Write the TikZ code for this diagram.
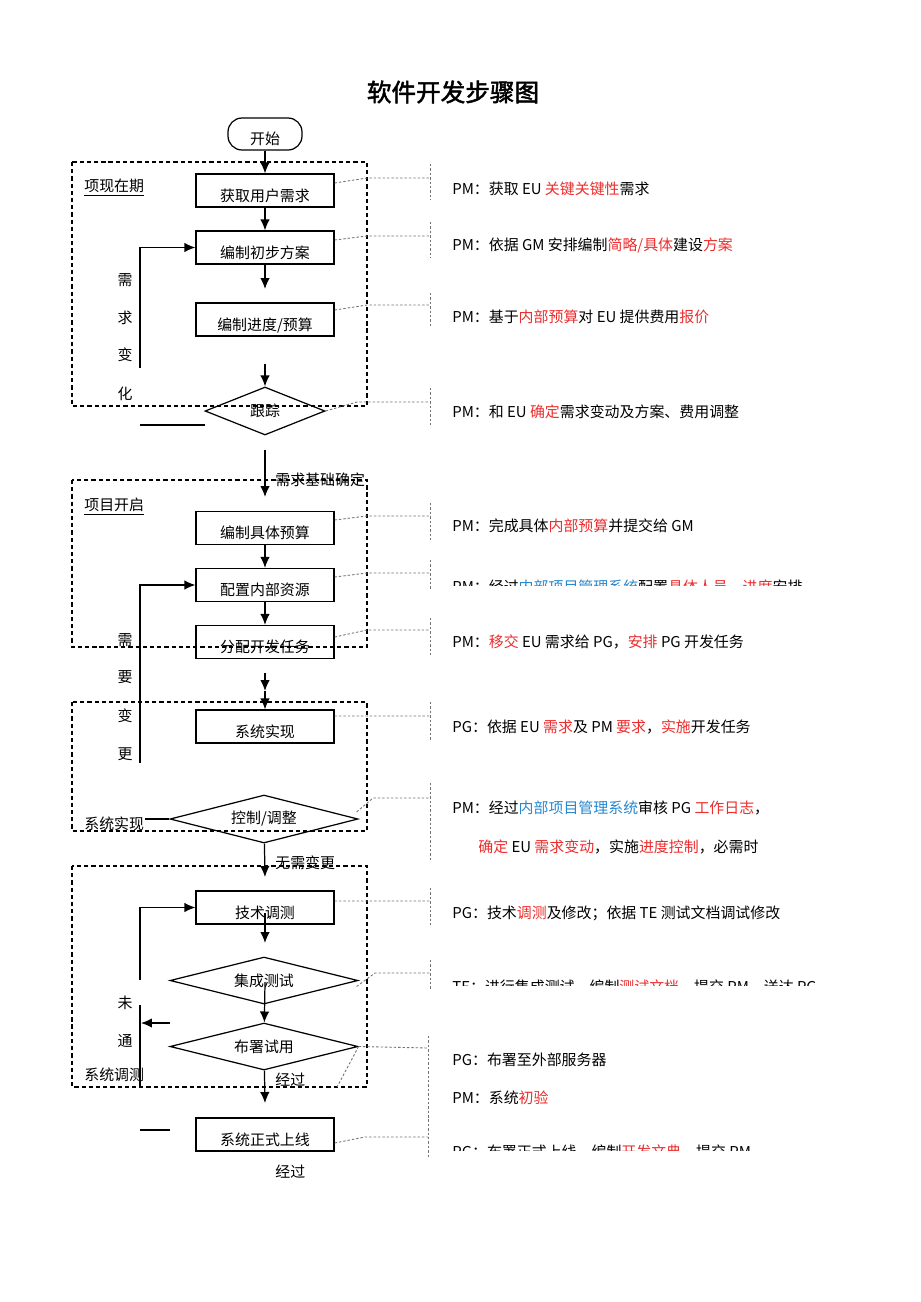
\documentclass[tikz,border=0pt]{standalone}
\usepackage{fontspec}
\setmainfont{Noto Sans CJK SC}
\newfontfamily\ttlfont[FakeBold=2]{Noto Sans CJK SC}
\usetikzlibrary{shapes.geometric,arrows.meta}
\definecolor{hlred}{RGB}{235,45,45}
\definecolor{syblue}{RGB}{40,135,205}
\newcommand{\hl}[1]{\textcolor{hlred}{#1}}
\newcommand{\sy}[1]{\textcolor{syblue}{#1}}
\newcommand{\fs}{\fontsize{8.5pt}{10pt}\selectfont}

\begin{document}
\begin{tikzpicture}[x=0.02cm,y=-0.02cm,
  stepbox/.style={draw,line width=0.7pt,minimum width=2.76cm,minimum height=0.66cm,
                  inner sep=0pt,text height=0.42cm,text depth=0pt,font=\fs},
  startbox/.style={draw,line width=0.7pt,rounded corners=0.28cm,minimum width=1.48cm,
                  minimum height=0.64cm,inner sep=0pt,text height=0.4cm,text depth=0pt,font=\fs},
  choice/.style={diamond,draw,line width=0.7pt,inner sep=0pt,font=\fs},
  grp/.style={draw,line width=0.6pt,dash pattern=on 2.4pt off 1.7pt},
  link/.style={draw=black!55,line width=0.5pt,dash pattern=on 1.4pt off 1.1pt},
  flow/.style={line width=0.7pt,-{Latex[length=2.2mm,width=1.9mm]}},
  note/.style={anchor=west,inner sep=0pt,font=\fs},
  tag/.style={inner sep=0pt,font=\fs}]
  \useasboundingbox (0,0) rectangle (920,1302);

  \node[font=\ttlfont\fontsize{14pt}{16pt}\selectfont] (ttl) at (453,92) {软件开发步骤图};

  \draw[grp] ( 72, 162) rectangle (367, 406);
  \draw[grp] ( 72, 480) rectangle (367, 647);
  \draw[grp] ( 72, 702) rectangle (367, 831);
  \draw[grp] ( 72, 866) rectangle (367,1087);

  \node[startbox] (st) at (265, 134.0) {开始};
  \node[stepbox]  (s1) at (265, 190.5) {获取用户需求};
  \node[stepbox]  (s2) at (265, 247.5) {编制初步方案};
  \node[stepbox]  (s3) at (265, 319.5) {编制进度/预算};
  \node[choice,aspect=2.5,minimum width=2.40cm,minimum height=0.96cm] (d1) at (265, 411.0) {跟踪};
  \node[stepbox]  (s4) at (265, 528.0) {编制具体预算};
  \node[stepbox]  (s5) at (265, 585.0) {配置内部资源};
  \node[stepbox]  (s6) at (265, 642.0) {分配开发任务};
  \node[stepbox]  (s7) at (265, 726.5) {系统实现};
  \node[choice,aspect=3.9,minimum width=3.76cm,minimum height=0.96cm] (d2) at (264, 819.0) {控制/调整};
  \node[stepbox]  (s8) at (265, 907.5) {技术调测};
  \node[choice,aspect=4.0,minimum width=3.76cm,minimum height=0.94cm] (d3) at (264, 980.5) {集成测试};
  \node[choice,aspect=4.0,minimum width=3.76cm,minimum height=0.94cm] (d4) at (264,1046.5) {布署试用};
  \node[stepbox]  (s9) at (265,1134.5) {系统正式上线};

  \node[tag,anchor=west] (g1) at ( 84, 188) {\underline{项现在期}};
  \node[tag,anchor=west] (g2) at ( 84, 507) {\underline{项目开启}};
  \node[tag,anchor=west] (g3) at ( 84, 824) {系统实现};
  \node[tag,anchor=west] (g4) at ( 84,1075) {系统调测};

  \node[tag] (v1) at (125, 280) {需};
  \node[tag] (v2) at (125, 318) {求};
  \node[tag] (v3) at (125, 355) {变};
  \node[tag] (v4) at (125, 394) {化};
  \node[tag] (v5) at (125, 640) {需};
  \node[tag] (v6) at (125, 677) {要};
  \node[tag] (v7) at (125, 716) {变};
  \node[tag] (v8) at (125, 754) {更};
  \node[tag] (v9) at (125,1003) {未};
  \node[tag] (v10) at (125,1041) {通};

  \node[tag,anchor=west] (e1) at (275, 480) {需求基础确定};
  \node[tag,anchor=west] (e2) at (275, 863) {无需变更};
  \node[tag,anchor=west] (e3) at (275,1080) {经过};
  \node[tag,anchor=west] (e4) at (275,1172) {经过};

  \coordinate (a1)  at (265, 289);
  \coordinate (a2)  at (265, 364);
  \coordinate (a3)  at (265, 450);
  \coordinate (a4)  at (265, 497);
  \coordinate (a5)  at (265, 673);
  \coordinate (a6)  at (265, 691);
  \coordinate (a7)  at (265, 877);
  \coordinate (a8)  at (265, 913);
  \coordinate (a9)  at (265, 943);
  \coordinate (a10) at (265, 982);
  \coordinate (a11) at (265,1103);
  \coordinate (b1)  at (140, 368);
  \coordinate (b2)  at (140, 763);
  \coordinate (b3)  at (140, 980);
  \coordinate (b4)  at (140,1005);
  \coordinate (b5)  at (140,1087);
  \coordinate (b6)  at (140, 425);
  \coordinate (b7)  at (205, 425);
  \coordinate (b8)  at (145, 819);
  \coordinate (b9)  at (170,1023);
  \coordinate (b10) at (141,1023);
  \coordinate (b11) at (140,1130);
  \coordinate (b12) at (170,1130);

  \draw[flow] (st) -- (s1);
  \draw[flow] (s1) -- (s2);
  \draw[flow] (s2) -- (a1);
  \draw[flow] (a2) -- (d1);
  \draw[flow] (a3) -- (a4);
  \draw[flow] (s4) -- (s5);
  \draw[flow] (s5) -- (s6);
  \draw[flow] (a5) -- (a6);
  \draw[flow] (a6) -- (s7);
  \draw[flow] (d2) -- (a7);
  \draw[flow] (a8) -- (a9);
  \draw[flow] (a10) -- (d4);
  \draw[flow] (d4) -- (a11);
  \draw[flow] (b1) |- (s2);
  \draw[flow] (b2) |- (s5);
  \draw[flow] (b3) |- (s8);
  \draw[flow] (b9) -- (b10);
  \draw[line width=0.7pt] (b4) -- (b5);
  \draw[line width=0.7pt] (b6) -- (b7);
  \draw[line width=0.7pt] (b8) -- (d2);
  \draw[line width=0.7pt] (b11) -- (b12);

  \draw[link] ([yshift=0.15cm]s1.east) -- (367, 178) -- (430, 178);
  \draw[link] ([yshift=0.15cm]s2.east) -- (367, 236) -- (430, 236);
  \draw[link] ([yshift=0.19cm]s3.east) -- (367, 305) -- (430, 305);
  \draw[link] (d1.east) -- (357, 402) -- (430, 402);
  \draw[link] ([yshift=0.16cm]s4.east) -- (367, 516) -- (430, 516);
  \draw[link] ([yshift=0.16cm]s5.east) -- (367, 573) -- (430, 573);
  \draw[link] ([yshift=0.10cm]s6.east) -- (367, 630) -- (430, 630);
  \draw[link] ([yshift=0.21cm]s7.east) -- (430, 716);
  \draw[link] ([xshift=-0.04cm,yshift=0.14cm]d2.east) -- (373, 798) -- (430, 798);
  \draw[link] ([yshift=0.13cm]s8.east) -- (430, 901);
  \draw[link] ([xshift=-0.04cm,yshift=-0.12cm]d3.east) -- (375, 973) -- (430, 973);
  \draw[link] (d4.east) -- (428,1048);
  \draw[link] (d4.east) -- (337,1087);
  \draw[link] ([yshift=-0.17cm]s9.east) -- (365,1137) -- (428,1137);

  \draw[link] (430, 164) -- (430, 200);
  \draw[link] (430, 222) -- (430, 258);
  \draw[link] (430, 293) -- (430, 328);
  \draw[link] (430, 388) -- (430, 425);
  \draw[link] (430, 503) -- (430, 540);
  \draw[link] (430, 560) -- (430, 590);
  \draw[link] (430, 618) -- (430, 655);
  \draw[link] (430, 702) -- (430, 740);
  \draw[link] (430, 783) -- (430, 862);
  \draw[link] (430, 888) -- (430, 925);
  \draw[link] (430, 960) -- (430, 990);
  \draw[link] (428,1036) -- (428,1158);

  \node[note] (n1)  at (452, 189) {PM：获取 EU \hl{关键关键性}需求};
  \node[note] (n2)  at (452, 246) {PM：依据 GM 安排编制\hl{简略/具体}建设\hl{方案}};
  \node[note] (n3)  at (452, 317) {PM：基于\hl{内部预算}对 EU 提供费用\hl{报价}};
  \node[note] (n4)  at (452, 412) {PM：和 EU \hl{确定}需求变动及方案、费用调整};
  \node[note] (n5)  at (452, 526) {PM：完成具体\hl{内部预算}并提交给 GM};
  \begin{scope}
    \clip (440, 570) rectangle (900, 585);
    \node[note] (n6) at (452, 587) {PM：经过\sy{内部项目管理系统}配置\hl{具体人员}、\hl{进度}安排};
  \end{scope}
  \node[note] (n7)  at (452, 642) {PM：\hl{移交} EU 需求给 PG，\hl{安排} PG 开发任务};
  \node[note] (n8)  at (452, 727) {PG：依据 EU \hl{需求}及 PM \hl{要求}，\hl{实施}开发任务};
  \node[note] (n9)  at (452, 808) {PM：经过\sy{内部项目管理系统}审核 PG \hl{工作日志}，};
  \node[note] (n9b) at (478, 847) {\hl{确定} EU \hl{需求变动}，实施\hl{进度控制}，必需时};
  \node[note] (n10) at (452, 913) {PG：技术\hl{调测}及修改；依据 TE 测试文档调试修改};
  \begin{scope}
    \clip (440, 970) rectangle (900, 985);
    \node[note] (n11) at (452, 987) {TE：进行集成测试，编制\hl{测试文档}，提交 PM，送达 PG};
  \end{scope}
  \node[note] (n12) at (452,1060) {PG：布署至外部服务器};
  \node[note] (n13) at (452,1098) {PM：系统\hl{初验}};
  \begin{scope}
    \clip (440,1135) rectangle (900,1150);
    \node[note] (n14) at (452,1152) {PG：布署正式上线，编制\hl{开发文典}，提交 PM};
  \end{scope}
\end{tikzpicture}
\end{document}
